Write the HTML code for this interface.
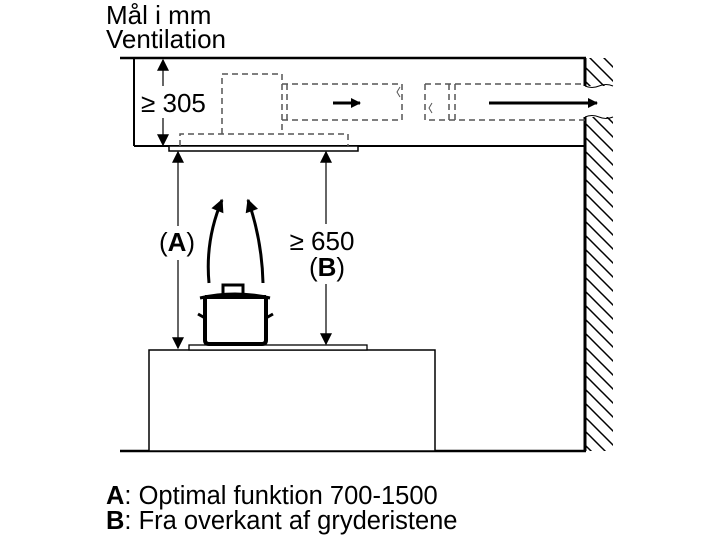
<!DOCTYPE html>
<html><head><style>
html,body{margin:0;padding:0;background:#fff;}
svg{display:block;}
text{font-family:"Liberation Sans",Arial,sans-serif;fill:#000;}
</style></head><body>
<svg width="720" height="540" viewBox="0 0 720 540" xmlns="http://www.w3.org/2000/svg">
<defs>
<pattern id="h" width="14" height="14" patternUnits="userSpaceOnUse">
<path d="M-4 -4 L18 18 M-4 10 L4 18 M10 -4 L18 4" stroke="#000" stroke-width="1.5"/>
</pattern>
<marker id="a" viewBox="0 0 10 10" refX="9" refY="5" markerWidth="12" markerHeight="10" markerUnits="userSpaceOnUse" orient="auto"><path d="M0 0L10 5L0 10z" fill="#000"/></marker>
<marker id="c" viewBox="0 0 10 10" refX="9" refY="5" markerWidth="15" markerHeight="13" markerUnits="userSpaceOnUse" orient="auto"><path d="M0 0L10 5L0 10z" fill="#000"/></marker>
<marker id="b" viewBox="0 0 10 10" refX="9" refY="5" markerWidth="14" markerHeight="12" markerUnits="userSpaceOnUse" orient="auto"><path d="M0 0L10 5L0 10z" fill="#000"/></marker>
</defs>
<text x="106" y="24" font-size="26">Mål i mm</text>
<text x="106" y="48" font-size="26">Ventilation</text>
<!-- wall hatch -->
<rect x="585" y="58" width="28" height="28" fill="url(#h)"/>
<rect x="585" y="117" width="28" height="334" fill="url(#h)"/>
<path d="M585 86 q7 3 14 0 t14 0" fill="none" stroke="#000" stroke-width="1"/>
<path d="M585 117 q7 -3 14 0 t14 0" fill="none" stroke="#000" stroke-width="1"/>
<line x1="585" y1="58" x2="585" y2="86" stroke="#000" stroke-width="3"/>
<line x1="585" y1="117" x2="585" y2="451" stroke="#000" stroke-width="3"/>
<!-- ceiling -->
<line x1="120" y1="58" x2="586" y2="58" stroke="#000" stroke-width="2.5"/>
<line x1="134" y1="58" x2="134" y2="146" stroke="#000" stroke-width="2"/>
<line x1="134" y1="146" x2="586" y2="146" stroke="#000" stroke-width="2"/>
<line x1="120" y1="451" x2="586" y2="451" stroke="#000" stroke-width="2.5"/>
<!-- hood plate -->
<rect x="169" y="146" width="189" height="5" fill="#fff" stroke="#000" stroke-width="1.5"/>
<!-- dashed -->
<g fill="none" stroke="#555" stroke-width="1.5" stroke-dasharray="6,4">
<path d="M180 146 V134 H348 V146"/>
<path d="M222 134 V74 H282 V134"/>
<path d="M282 84 H402 V120 H282"/>
<path d="M287 84 V120"/>
<path d="M425 84 V120 H585 M425 84 H585"/>
<path d="M449 84 V120 M455 84 V120"/>
</g>
<path d="M400 87 l-3 5 l3 5 M432 103 l-3 5 l3 5" fill="none" stroke="#555" stroke-width="1"/>
<line x1="333" y1="103" x2="360" y2="103" stroke="#000" stroke-width="3" marker-end="url(#a)"/>
<line x1="489" y1="103" x2="597" y2="103" stroke="#000" stroke-width="3" marker-end="url(#a)"/>
<!-- 305 dim -->
<line x1="163" y1="86" x2="163" y2="60" stroke="#000" stroke-width="1.2" marker-end="url(#b)"/>
<line x1="163" y1="118" x2="163" y2="145" stroke="#000" stroke-width="1.2" marker-end="url(#b)"/>
<rect x="140" y="88" width="70" height="28" fill="#fff"/>
<text x="141" y="112" font-size="26">≥ 305</text>
<!-- A dim -->
<line x1="178" y1="226" x2="178" y2="152" stroke="#000" stroke-width="1.2" marker-end="url(#b)"/>
<line x1="178" y1="260" x2="178" y2="348" stroke="#000" stroke-width="1.2" marker-end="url(#b)"/>
<text x="177" y="251" text-anchor="middle" font-size="26">(<tspan font-weight="bold">A</tspan>)</text>
<!-- B dim -->
<line x1="326" y1="224" x2="326" y2="152" stroke="#000" stroke-width="1.2" marker-end="url(#b)"/>
<line x1="326" y1="284" x2="326" y2="344" stroke="#000" stroke-width="1.2" marker-end="url(#b)"/>
<text x="322" y="250" text-anchor="middle" font-size="26">≥ 650</text>
<text x="327" y="276" text-anchor="middle" font-size="26">(<tspan font-weight="bold">B</tspan>)</text>
<!-- counter -->
<rect x="149" y="350" width="286" height="101" fill="#fff" stroke="#000" stroke-width="1.5"/>
<rect x="189" y="345" width="178" height="5" fill="#fff" stroke="#000" stroke-width="1.3"/>
<!-- pot -->
<path d="M205 297 H266 M205 297 V340 Q205 344 209 344 H262 Q266 344 266 340 V297" fill="none" stroke="#000" stroke-width="4"/>
<path d="M200 298 Q235 290 270 298" fill="none" stroke="#000" stroke-width="3"/>
<rect x="223" y="285" width="20" height="10" fill="none" stroke="#000" stroke-width="3"/>
<path d="M205 318 l-7 -4 M266 318 l7 -4" stroke="#000" stroke-width="3"/>
<!-- steam -->
<path d="M209 283 Q205 240 222 200" fill="none" stroke="#000" stroke-width="3" marker-end="url(#c)"/>
<path d="M263 283 Q262 240 248 200" fill="none" stroke="#000" stroke-width="3" marker-end="url(#c)"/>
<text x="106" y="504" font-size="25.5"><tspan font-weight="bold">A</tspan>: Optimal funktion 700-1500</text>
<text x="106" y="529" font-size="25.5"><tspan font-weight="bold">B</tspan>: Fra overkant af gryderistene</text>
</svg>
</body></html>
